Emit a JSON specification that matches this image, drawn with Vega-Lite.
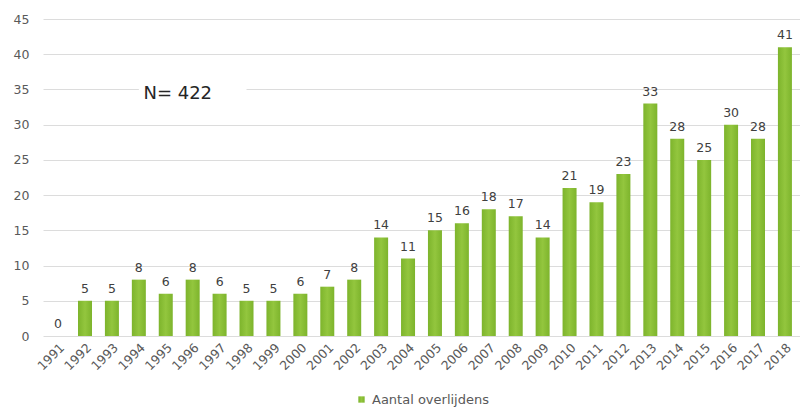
{
  "$schema": "https://vega.github.io/schema/vega-lite/v6.json",
  "autosize": {"type": "none"},
  "width": 757,
  "height": 317,
  "padding": {"left": 43, "top": 19, "right": 0, "bottom": 72},
  "background": "white",
  "config": {
    "view": {"stroke": null},
    "font": "DejaVu Sans",
    "axis": {"labelColor": "#595959", "labelFont": "DejaVu Sans"},
    "axisY": {"domain": false, "ticks": false, "gridColor": "#dcdcdc", "labelFontSize": 12.5, "labelPadding": 14, "labelOverlap": false},
    "legend": {"labelColor": "#595959", "labelFont": "DejaVu Sans", "layout": {"anchor": "middle"}}
  },
  "datasets": {
    "main": [
      {"year": "1991", "value": 0, "series": "Aantal overlijdens"},
      {"year": "1992", "value": 5, "series": "Aantal overlijdens"},
      {"year": "1993", "value": 5, "series": "Aantal overlijdens"},
      {"year": "1994", "value": 8, "series": "Aantal overlijdens"},
      {"year": "1995", "value": 6, "series": "Aantal overlijdens"},
      {"year": "1996", "value": 8, "series": "Aantal overlijdens"},
      {"year": "1997", "value": 6, "series": "Aantal overlijdens"},
      {"year": "1998", "value": 5, "series": "Aantal overlijdens"},
      {"year": "1999", "value": 5, "series": "Aantal overlijdens"},
      {"year": "2000", "value": 6, "series": "Aantal overlijdens"},
      {"year": "2001", "value": 7, "series": "Aantal overlijdens"},
      {"year": "2002", "value": 8, "series": "Aantal overlijdens"},
      {"year": "2003", "value": 14, "series": "Aantal overlijdens"},
      {"year": "2004", "value": 11, "series": "Aantal overlijdens"},
      {"year": "2005", "value": 15, "series": "Aantal overlijdens"},
      {"year": "2006", "value": 16, "series": "Aantal overlijdens"},
      {"year": "2007", "value": 18, "series": "Aantal overlijdens"},
      {"year": "2008", "value": 17, "series": "Aantal overlijdens"},
      {"year": "2009", "value": 14, "series": "Aantal overlijdens"},
      {"year": "2010", "value": 21, "series": "Aantal overlijdens"},
      {"year": "2011", "value": 19, "series": "Aantal overlijdens"},
      {"year": "2012", "value": 23, "series": "Aantal overlijdens"},
      {"year": "2013", "value": 33, "series": "Aantal overlijdens"},
      {"year": "2014", "value": 28, "series": "Aantal overlijdens"},
      {"year": "2015", "value": 25, "series": "Aantal overlijdens"},
      {"year": "2016", "value": 30, "series": "Aantal overlijdens"},
      {"year": "2017", "value": 28, "series": "Aantal overlijdens"},
      {"year": "2018", "value": 41, "series": "Aantal overlijdens"}
    ],
    "note": [
      {"start": "1994", "end": "1998", "lo": 33, "hi": 36.5, "pos": "1995", "yv": 34.3, "label": "N= 422"}
    ]
  },
  "layer": [
    {
      "data": {"name": "main"},
      "mark": {
        "type": "bar",
        "color": {
          "gradient": "linear", "x1": 0, "x2": 1, "y1": 0, "y2": 0,
          "stops": [
            {"offset": 0, "color": "#7db42c"},
            {"offset": 0.5, "color": "#93c63e"},
            {"offset": 1, "color": "#7db42c"}
          ]
        }
      },
      "encoding": {
        "x": {
          "field": "year", "type": "ordinal",
          "scale": {"paddingInner": 0.48, "paddingOuter": 0.3},
          "axis": {
            "title": null, "labelAngle": -45, "labelFontSize": 12.5,
            "domain": false, "ticks": false, "labelPadding": 5
          }
        },
        "y": {
          "field": "value", "type": "quantitative",
          "scale": {"domain": [0, 45]},
          "axis": {"title": null, "values": [0, 5, 10, 15, 20, 25, 30, 35, 40, 45]}
        },
        "opacity": {
          "field": "series", "type": "nominal",
          "scale": {"range": [1]},
          "legend": {
            "title": null, "orient": "bottom", "symbolType": "square",
            "symbolFillColor": "#86bc33", "symbolStrokeWidth": 0, "symbolSize": 40,
            "labelFontSize": 13, "offset": 20
          }
        }
      }
    },
    {
      "data": {"name": "main"},
      "mark": {"type": "text", "baseline": "bottom", "dy": -5, "fontSize": 12.5, "color": "#404040"},
      "encoding": {
        "x": {"field": "year", "type": "ordinal"},
        "y": {"field": "value", "type": "quantitative", "axis": {"title": null, "values": [0, 5, 10, 15, 20, 25, 30, 35, 40, 45]}},
        "text": {"field": "value", "type": "quantitative"}
      }
    },
    {
      "data": {"name": "note"},
      "mark": {"type": "rect", "color": "white"},
      "encoding": {
        "x": {"field": "start", "type": "ordinal"},
        "x2": {"field": "end"},
        "y": {"field": "lo", "type": "quantitative", "axis": {"title": null, "values": [0, 5, 10, 15, 20, 25, 30, 35, 40, 45]}},
        "y2": {"field": "hi"}
      }
    },
    {
      "data": {"name": "note"},
      "mark": {"type": "text", "fontSize": 18, "color": "#262626", "dx": 12, "baseline": "middle"},
      "encoding": {
        "x": {"field": "pos", "type": "ordinal"},
        "y": {"field": "yv", "type": "quantitative", "axis": {"title": null, "values": [0, 5, 10, 15, 20, 25, 30, 35, 40, 45]}},
        "text": {"field": "label"}
      }
    }
  ]
}
